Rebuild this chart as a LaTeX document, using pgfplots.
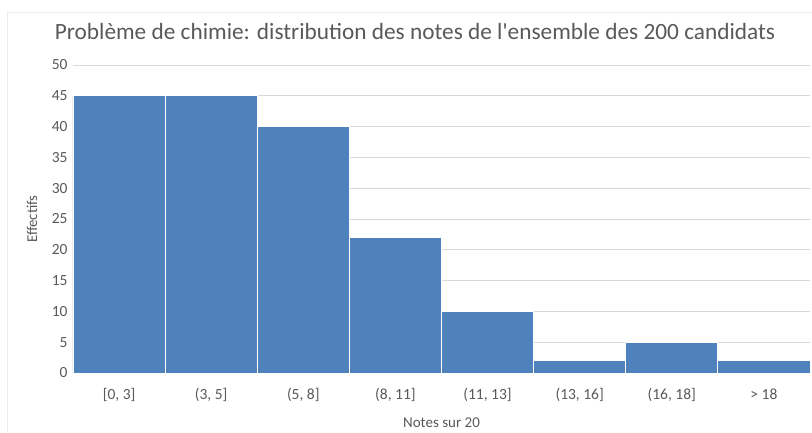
\documentclass[border=0pt]{standalone}
\usepackage{pgfplots}
\pgfplotsset{compat=1.18}
\usepackage{fontspec}
\setmainfont{Carlito}
\definecolor{barblue}{HTML}{4F81BD}
\definecolor{txtgray}{HTML}{595959}
\definecolor{gridgray}{HTML}{D9D9D9}
\begin{document}
\begin{tikzpicture}[x=1pt,y=1pt]
\useasboundingbox (0,0) rectangle (812,432);
\draw[gray!15] (7,0) -- (7,420) -- (812,420);
\begin{axis}[
  at={(73pt,59pt)}, anchor=south west,
  scale only axis, width=737pt, height=308pt,
  xmin=-0.5, xmax=7.5, ymin=0, ymax=50,
  ytick={0,5,...,50},
  xtick={0,...,7},
  xticklabels={{[0, 3]},{(3, 5]},{(5, 8]},{(8, 11]},{(11, 13]},{(13, 16]},{(16, 18]},{> 18}},
  ymajorgrids, grid style={gridgray, line width=0.8pt},
  axis line style={draw=none},
  major tick length=0pt,
  tick label style={font=\fontsize{15.5}{18}\selectfont, text=txtgray},
  /pgf/number format/assume math mode=true,
  yticklabel style={xshift=-2pt},
  xticklabel style={anchor=base, yshift=-26pt},
  xlabel={Notes sur 20}, ylabel={Effectifs},
  label style={font=\fontsize{15}{18}\selectfont, text=txtgray},
  xlabel style={at={(axis description cs:0.5,0)}, anchor=base, yshift=-54pt},
  ylabel style={at={(axis description cs:0,0.5)}, anchor=center, yshift=41pt},
  title={Problème de chimie: distribution des notes de l\textquotesingle ensemble des 200 candidats},
  title style={font=\fontsize{23.3}{26}\selectfont, text=txtgray, at={(0.464,1)}, anchor=base, yshift=20pt},
  clip=false,
]
\addplot[ybar, bar width=1, fill=barblue, draw=white, line width=0.8pt] coordinates {
  (0,45) (1,45) (2,40) (3,22) (4,10) (5,2) (6,5) (7,2)
};
\end{axis}
\end{tikzpicture}
\end{document}
